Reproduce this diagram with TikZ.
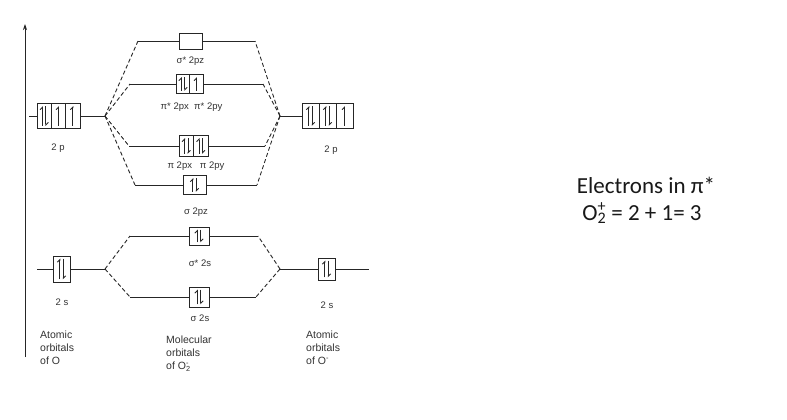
\documentclass[tikz,border=0pt]{standalone}
\usepackage{fontspec}
\setmainfont{Liberation Sans}
\newfontfamily\rightfont{Carlito}
\usetikzlibrary{arrows.meta,calc}
\newcommand{\epair}[1]{%
  \draw[eu] ($(#1.south)+(-1.7,-3)$) -- ($(#1.north)+(-1.7,3)$);
  \draw[ed] ($(#1.north)+(1.7,3)$) -- ($(#1.south)+(1.7,-3)$);}
\newcommand{\esingle}[1]{%
  \draw[eu] ($(#1.south)+(0,-3)$) -- ($(#1.north)+(0,3)$);}
\begin{document}
\begin{tikzpicture}[x=1pt,y=-1pt,
  lvl/.style={line width=0.9pt,black!85},
  dsh/.style={line width=0.9pt,black!85,dash pattern=on 4pt off 2.5pt},
  cell/.style={draw=black!85,line width=0.9pt,rectangle,inner sep=0pt},
  eu/.style={line width=0.9pt,black!85,-{Straight Barb[left,length=2.5pt,width=5pt]}},
  ed/.style={line width=0.9pt,black!85,-{Straight Barb[left,length=2.5pt,width=5pt]}},
  lbl/.style={font=\fontsize{9.5}{11}\selectfont,text=black!80,inner sep=0pt},
  blbl/.style={font=\fontsize{10.5}{13}\selectfont,text=black!80,align=left,anchor=north west,inner sep=0pt},
  rtxt/.style={font=\rightfont\fontsize{23}{26}\selectfont,text=black!90,inner sep=0pt}
]
\useasboundingbox[fill=white] (0,0) rectangle (787,420);

% axis
\coordinate (axb) at (25,357);
\coordinate (axt) at (25,24);
\draw[line width=0.9pt,black!85,-{Stealth[length=6pt,width=4pt]}] (axb) -- (axt);

% ---------- 2p region ----------
\coordinate (LJ2p) at (105,116);
\coordinate (RJ2p) at (280,116);
\coordinate (L2pstart) at (29,116);

\node[cell,minimum width=14.3pt,minimum height=25pt] (L2pa) at (44.2,116) {};
\node[cell,minimum width=14.3pt,minimum height=25pt] (L2pb) at (58.5,116) {};
\node[cell,minimum width=14.3pt,minimum height=25pt] (L2pc) at (72.8,116) {};
\epair{L2pa}\esingle{L2pb}\esingle{L2pc}
\draw[lvl] (L2pstart) -- (L2pa.west);
\draw[lvl] (L2pc.east) -- (LJ2p);
\node[lbl] (L2plbl) at (58,148) {2 p};

\node[cell,minimum width=17pt,minimum height=25pt] (R2pa) at (310.5,116) {};
\node[cell,minimum width=17pt,minimum height=25pt] (R2pb) at (327.5,116) {};
\node[cell,minimum width=17pt,minimum height=25pt] (R2pc) at (344.5,116) {};
\epair{R2pa}\epair{R2pb}\esingle{R2pc}
\draw[lvl] (RJ2p) -- (R2pa.west);
\node[lbl] (R2plbl) at (331,150) {2 p};

% sigma* 2pz
\coordinate (SSl) at (138,41);
\coordinate (SSr) at (255,41);
\node[cell,minimum width=23pt,minimum height=16pt] (SS2pz) at (190.5,41) {};
\draw[lvl] (SSl) -- (SS2pz.west);
\draw[lvl] (SS2pz.east) -- (SSr);
\draw[dsh] (LJ2p) -- (SSl);
\draw[dsh] (RJ2p) -- (SSr);
\node[lbl] (SSlbl) at (190.5,61) {σ* 2pz};

% pi* 2p
\coordinate (PSl) at (130,84);
\coordinate (PSr) at (263,84);
\node[cell,minimum width=13.5pt,minimum height=19pt] (PSa) at (183,84) {};
\node[cell,minimum width=13.5pt,minimum height=19pt] (PSb) at (196.5,84) {};
\epair{PSa}\esingle{PSb}
\draw[lvl] (PSl) -- (PSa.west);
\draw[lvl] (PSb.east) -- (PSr);
\draw[dsh] (LJ2p) -- (PSl);
\draw[dsh] (RJ2p) -- (PSr);
\node[lbl] (PSlbl) at (191.5,107) {π* 2px\ \ π* 2py};

% pi 2p
\coordinate (Pl) at (129,146);
\coordinate (Pr) at (265,146);
\node[cell,minimum width=14.5pt,minimum height=21pt] (Pa) at (186.25,146) {};
\node[cell,minimum width=14.5pt,minimum height=21pt] (Pb) at (200.75,146) {};
\epair{Pa}\epair{Pb}
\draw[lvl] (Pl) -- (Pa.west);
\draw[lvl] (Pb.east) -- (Pr);
\draw[dsh] (LJ2p) -- (Pl);
\draw[dsh] (RJ2p) -- (Pr);
\node[lbl] (Plbl) at (196,166) {π 2px\ \ \ π 2py};

% sigma 2pz
\coordinate (Sl) at (135,185);
\coordinate (Sr) at (257,185);
\node[cell,minimum width=23pt,minimum height=19pt] (S2pz) at (194.5,185) {};
\epair{S2pz}
\draw[lvl] (Sl) -- (S2pz.west);
\draw[lvl] (S2pz.east) -- (Sr);
\draw[dsh] (LJ2p) -- (Sl);
\draw[dsh] (RJ2p) -- (Sr);
\node[lbl] (Slbl) at (196,212) {σ 2pz};

% ---------- 2s region ----------
\coordinate (LJ2s) at (105,269);
\coordinate (RJ2s) at (280,269);
\coordinate (L2sstart) at (37,269);
\coordinate (R2send) at (369,269);

\node[cell,minimum width=17pt,minimum height=26pt] (L2s) at (61.5,269) {};
\epair{L2s}
\draw[lvl] (L2sstart) -- (L2s.west);
\draw[lvl] (L2s.east) -- (LJ2s);
\node[lbl] (L2slbl) at (62,302) {2 s};

\node[cell,minimum width=17pt,minimum height=22pt] (R2s) at (326.5,269) {};
\epair{R2s}
\draw[lvl] (RJ2s) -- (R2s.west);
\draw[lvl] (R2s.east) -- (R2send);
\node[lbl] (R2slbl) at (327,305) {2 s};

\coordinate (SS2sl) at (130,236);
\coordinate (SS2sr) at (258,236);
\node[cell,minimum width=20pt,minimum height=18pt] (SS2s) at (199,236) {};
\epair{SS2s}
\draw[lvl] (SS2sl) -- (SS2s.west);
\draw[lvl] (SS2s.east) -- (SS2sr);
\draw[dsh] (LJ2s) -- (SS2sl);
\draw[dsh] (RJ2s) -- (SS2sr);
\node[lbl] (SS2slbl) at (200,263) {σ* 2s};

\coordinate (S2sl) at (130,297);
\coordinate (S2sr) at (256,297);
\node[cell,minimum width=20pt,minimum height=20pt] (S2s) at (199,297) {};
\epair{S2s}
\draw[lvl] (S2sl) -- (S2s.west);
\draw[lvl] (S2s.east) -- (S2sr);
\draw[dsh] (LJ2s) -- (S2sl);
\draw[dsh] (RJ2s) -- (S2sr);
\node[lbl] (S2slbl) at (200,318) {σ 2s};

% bottom labels
\node[blbl] (latom) at (40,331) {Atomic\\orbitals\\of O};
\node[blbl] (mol) at (166,336) {Molecular\\orbitals\\of O\rlap{\textsuperscript{-}}\textsubscript{2}};
\node[blbl] (ratom) at (306,331) {Atomic\\orbitals\\of O\textsuperscript{-}};

% right text
\node[rtxt] (rt1) at (646,185) {Electrons in π*};
\node[rtxt] (rt2) at (642,213) {O\rlap{\textsuperscript{+}}\textsubscript{2} = 2 + 1= 3};
\end{tikzpicture}
\end{document}
